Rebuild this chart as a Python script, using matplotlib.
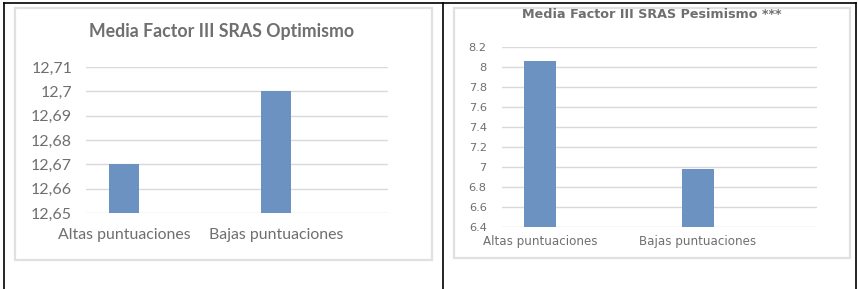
import matplotlib
matplotlib.use("Agg")
import matplotlib.pyplot as plt
from matplotlib.patches import Rectangle
from matplotlib.lines import Line2D

W, H = 858, 289

# chart data
categories = ["Altas puntuaciones", "Bajas puntuaciones"]

opt_title = "Media Factor III SRAS Optimismo"
opt_values = [12.67, 12.70]
opt_ticks = [12.65, 12.66, 12.67, 12.68, 12.69, 12.70, 12.71]
opt_ticklabels = ["12,65", "12,66", "12,67", "12,68", "12,69", "12,7", "12,71"]

pes_title = "Media Factor III SRAS Pesimismo ***"
pes_values = [8.06, 6.98]
pes_ticks = [6.4, 6.6, 6.8, 7.0, 7.2, 7.4, 7.6, 7.8, 8.0, 8.2]
pes_ticklabels = ["6.4", "6.6", "6.8", "7", "7.2", "7.4", "7.6", "7.8", "8", "8.2"]

BAR = "#6c92c1"
GRID = "#d9d9d9"
TXT = "#6f6f6f"
FRAME = "#e0e0e0"

plt.rcParams["font.family"] = ["Lato", "DejaVu Sans"]


def px_box(x0, y0, x1, y1):
    # pixel box (top-left origin) -> figure fraction rect
    return [x0 / W, 1 - y1 / H, (x1 - x0) / W, (y1 - y0) / H]


def bar_chart(fig, box, values, ticks, ticklabels, xlim, width,
              tsize, xsize, ypad, xpad, family):
    ax = fig.add_axes(px_box(*box))
    ax.bar(range(len(values)), [v - ticks[0] for v in values], bottom=ticks[0],
           width=width, color=BAR, zorder=3)
    ax.set_xlim(*xlim)
    ax.set_ylim(ticks[0], ticks[-1])
    ax.set_yticks(ticks)
    ax.set_yticklabels(ticklabels, fontsize=tsize, color=TXT, family=family)
    ax.set_xticks(range(len(categories)))
    ax.set_xticklabels(categories, fontsize=xsize, color=TXT, family=family)
    ax.tick_params(axis="y", length=0, pad=ypad)
    ax.tick_params(axis="x", length=0, pad=xpad)
    ax.grid(axis="y", color=GRID, lw=1.0, zorder=0)
    for s in ax.spines.values():
        s.set_visible(False)
    ax.patch.set_alpha(0)
    return ax


fig = plt.figure(figsize=(W / 100, H / 100), dpi=100)

# chart frames
fig.patches.append(Rectangle((15 / W, 1 - 260 / H), 417 / W, 252 / H,
                             transform=fig.transFigure, fill=False,
                             edgecolor=FRAME, lw=1.6))
fig.patches.append(Rectangle((454 / W, 1 - 258 / H), 396 / W, 250 / H,
                             transform=fig.transFigure, fill=False,
                             edgecolor=FRAME, lw=1.6))

bar_chart(fig, (86, 67, 388, 213), opt_values, opt_ticks, opt_ticklabels,
          (-0.25, 1.737), 0.197, 11.5, 11.4, 10, 11, ["Lato", "DejaVu Sans"])
fig.text(222 / W, 1 - 31 / H, opt_title, ha="center", va="center",
         fontsize=12.8, fontweight="bold", color=TXT)

bar_chart(fig, (502, 47, 817, 227), pes_values, pes_ticks, pes_ticklabels,
          (-0.24, 1.753), 0.2, 8.2, 8.6, 11, 6, ["DejaVu Sans"])
fig.text(652 / W, 1 - 15 / H, pes_title, ha="center", va="center",
         fontsize=9.2, fontweight="bold", color=TXT, family=["DejaVu Sans"])

# table borders
for x in (4, 443, 856):
    fig.lines.append(Line2D([x / W, x / W], [0, 1 - 3 / H],
                            transform=fig.transFigure, color="black", lw=1.2))
fig.lines.append(Line2D([4 / W, 856 / W], [1 - 3 / H, 1 - 3 / H],
                        transform=fig.transFigure, color="black", lw=1.2))

fig.savefig("out.png", dpi=100)
